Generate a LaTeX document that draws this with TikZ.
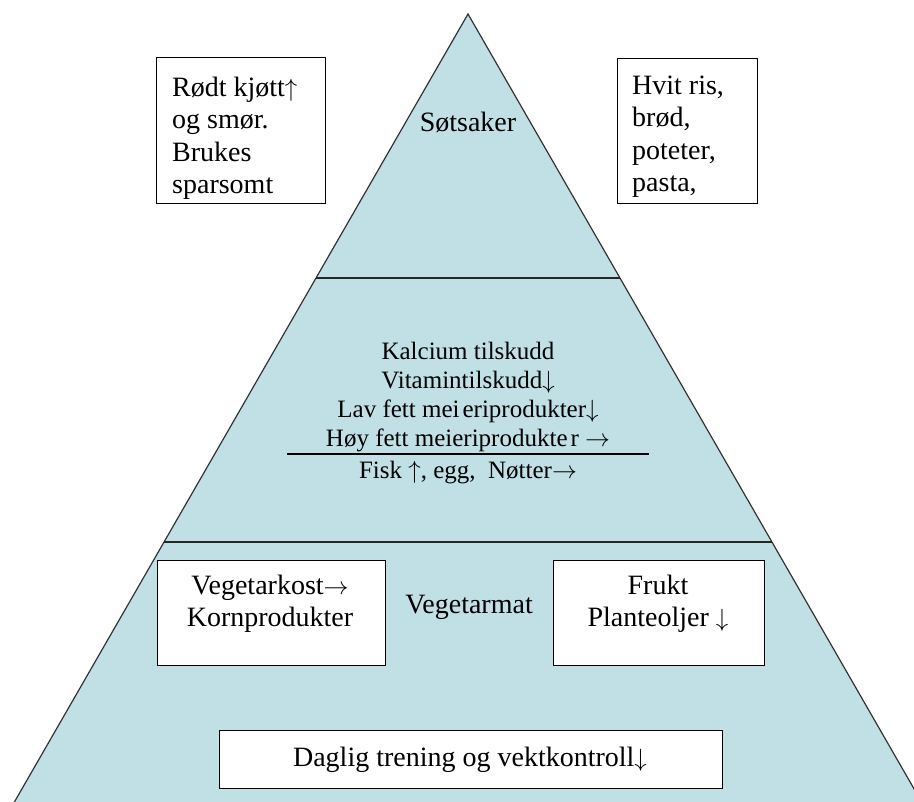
\documentclass[tikz,border=0pt]{standalone}
\usepackage{fontspec}
\setmainfont{Liberation Serif}
\definecolor{pyr}{RGB}{192,224,230}
\newcommand{\ua}{$\uparrow$}
\newcommand{\da}{$\downarrow$}
\newcommand{\ra}{$\rightarrow$}
\begin{document}
\begin{tikzpicture}[x=1pt,y=-1pt,
  box/.style={draw=black, line width=1.4pt, fill=white, inner sep=0pt, anchor=north west},
  big/.style={font=\fontsize{28}{32.2}\selectfont, inner sep=0pt},
  mid/.style={font=\fontsize{25}{29}\selectfont, inner sep=0pt, align=center},
  sep/.style={draw=black!85, line width=1.4pt}]
\useasboundingbox (0,0) rectangle (914,802);
\begin{scope}
\clip (0,0) rectangle (914,802);
\draw[fill=pyr, draw=black!80, line width=1.2pt] (468,14) -- (-19,860) -- (955,860) -- cycle;
\end{scope}
\draw[sep] (316,278) -- (620,278);
\draw[sep] (164,542) -- (772,542);
% top
\node[big] (sot) at (468,122) {Søtsaker};
\node[box, minimum width=169pt, minimum height=146pt] (lbox) at (156,57) {};
\node[big, align=left, anchor=north west] (ltext) at (172,77) {Rødt kjøtt\ua\\og smør.\\Brukes\\sparsomt};
\node[box, minimum width=140pt, minimum height=145pt] (rbox) at (617,58) {};
\node[big, align=left, anchor=north west] (rtext) at (632,76) {Hvit ris,\\brød,\\poteter,\\pasta,};
% middle
\node[mid] (mtext) at (468,397) {Kalcium tilskudd\\Vitamintilskudd\da\\Lav fett mei\hspace{3pt}eriprodukter\da\\Høy fett meieriprodukte\hspace{3pt}r \ra};
\draw[line width=1.2pt] (287,454) -- (649,454);
\node[mid] (fisk) at (468,473) {Fisk \ua, egg,\ \ Nøtter\ra};
% bottom
\node[box, minimum width=228pt, minimum height=105pt] (vbox) at (157,560) {};
\node[big, align=center] (vtext) at (270,604) {Vegetarkost\ra\\Kornprodukter};
\node[big] (vmat) at (469,607) {Vegetarmat};
\node[box, minimum width=211pt, minimum height=105pt] (fbox) at (553,560) {};
\node[big, align=center] (ftext) at (658,604) {Frukt\\Planteoljer \da};
\node[box, minimum width=503pt, minimum height=58pt] (dbox) at (219,730) {};
\node[big] (dtext) at (470,760) {Daglig trening og vektkontroll\da};
\end{tikzpicture}
\end{document}
